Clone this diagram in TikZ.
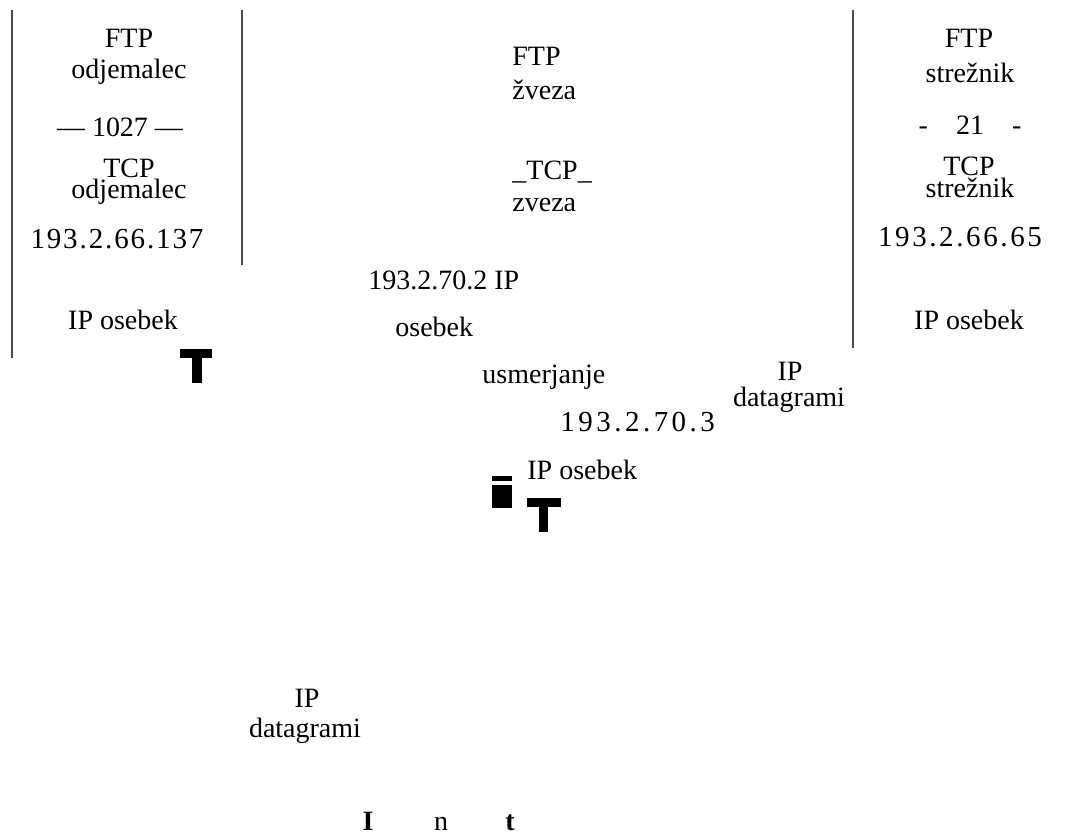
\documentclass[tikz,border=0pt]{standalone}
\usepackage{fontspec}
\setmainfont{Liberation Serif}
\newfontfamily\addrfont{Liberation Serif}
\tikzset{
    lbl/.style={font=\fontsize{14}{16}\selectfont, inner sep=0pt, anchor=base},
    lblw/.style={lbl, anchor=base west},
    addr/.style={lbl, font=\addrfont\fontsize{14.5}{16}\selectfont},
    wall/.style={draw=black!70, line width=0.8pt},
    blk/.style={fill=black, draw=none}
}
\begin{document}
\begin{tikzpicture}[x=0.5pt, y=-0.5pt]
    \useasboundingbox (0,0) rectangle (1073,834);
    % walls
    \draw[wall] (12,10) -- (12,358);
    \draw[wall] (242,10) -- (242,265);
    \draw[wall] (853,10) -- (853,348);
    % client
    \node[lbl] (ftpC) at (129,48) {FTP};
    \node[lbl] (odjC) at (129,79) {odjemalec};
    \node[lbl] (portC) at (120,137) {— 1027 —};
    \node[lbl] (tcpC) at (129,178) {TCP};
    \node[lbl] (odjCb) at (129,199) {odjemalec};
    \node[addr, font=\addrfont\fontsize{14.5}{16}\selectfont\addfontfeature{LetterSpace=6.5}] (ipC) at (117,249) {193.2.66.137};
    \node[lbl] (osebC) at (123,330) {IP osebek};
    \fill[blk] (180,349) rectangle (212,358); \fill[blk] (192,349) rectangle (202,383);
    % connection
    \node[lblw] (ftpZ) at (512,66) {FTP};
    \node[lblw] (zvezaF) at (512,100) {žveza};
    \node[lblw] (tcpZ) at (512,180) {\_TCP\_};
    \node[lblw] (zvezaT) at (512,212) {zveza};
    % router
    \node[lblw] (rtrA) at (368,290) {193.2.70.2 IP};
    \node[lblw] (rtrOs) at (395,337) {osebek};
    \node[lblw] (usm) at (482,384) {usmerjanje};
    \node[addr, anchor=base west, font=\addrfont\fontsize{14.5}{16}\selectfont\addfontfeature{LetterSpace=12}] (rtrB) at (560,432) {193.2.70.3};
    \node[lbl] (dgA) at (790,381) {IP};
    \node[lbl] (dgAb) at (789,407) {datagrami};
    \node[lblw] (rtrOsb) at (527,480) {IP osebek};
    \fill[blk] (492,476) rectangle (512,481); \fill[blk] (492,485) rectangle (512,508);
    \fill[blk] (527,498) rectangle (561,507); \fill[blk] (539,498) rectangle (548,532);
    % server
    \node[lbl] (ftpS) at (969,48) {FTP};
    \node[lbl] (strS) at (970,83) {strežnik};
    \node[lbl] (portS) at (970,135) {-\quad 21\quad -};
    \node[lbl] (tcpS) at (969,176) {TCP};
    \node[lbl] (strSb) at (970,198) {strežnik};
    \node[addr, font=\addrfont\fontsize{14.5}{16}\selectfont\addfontfeature{LetterSpace=9}] (ipS) at (960,247) {193.2.66.65};
    \node[lbl] (osebS) at (969,330) {IP osebek};
    % bottom
    \node[lbl] (dgB) at (307,708) {IP};
    \node[lbl] (dgBb) at (305,738) {datagrami};
    \node[lbl] (inI) at (368,830) {\textbf{I}};
    \node[lbl] (inN) at (441,830) {n};
    \node[lbl] (inT) at (510,830) {\textbf{t}};
\end{tikzpicture}
\end{document}
